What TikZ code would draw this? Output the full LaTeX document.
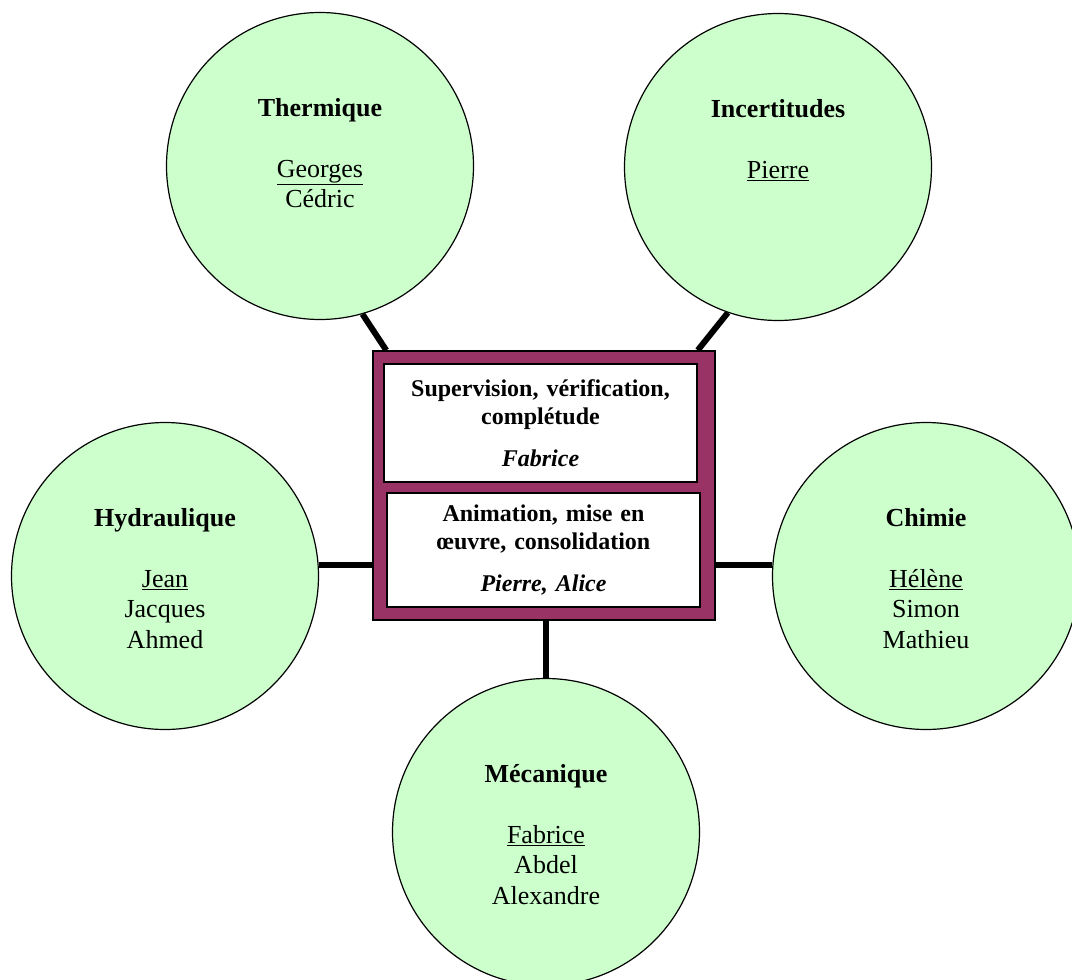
\documentclass[tikz,border=0pt]{standalone}
\usepackage{fontspec}
\setmainfont{Liberation Serif}
\usepackage{xcolor}
\usepackage{tikz}

\definecolor{poleGreen}{HTML}{CCFFCC}
\definecolor{plum}{HTML}{993366}

\begin{document}
\begin{tikzpicture}[x=1pt, y=-1pt,
    pole/.style={circle, draw, line width=1.2pt, fill=poleGreen, minimum size=307pt, inner sep=0pt},
    poletext/.style={anchor=north, inner sep=0pt, align=center, font=\fontsize{26}{30.5}\selectfont},
    panel/.style={draw, line width=1.2pt, fill=white, align=center, text width=300pt, minimum width=313pt,
                  font=\fontsize{24}{28}\selectfont\bfseries},
    link/.style={line width=6pt}]
    \useasboundingbox (0,0) rectangle (1072,980);

    % the five poles
    \node[pole] (therm) at (320,166) {};
    \node[poletext] (therm-txt) at ([yshift=68pt]therm.center) {\textbf{Thermique}\\[30.5pt]\underline{Georges}\\Cédric};

    \node[pole] (incert) at (778,167) {};
    \node[poletext] (incert-txt) at ([yshift=68pt]incert.center) {\textbf{Incertitudes}\\[30.5pt]\underline{Pierre}};

    \node[pole] (hydr) at (165,576) {};
    \node[poletext] (hydr-txt) at ([yshift=68pt]hydr.center) {\textbf{Hydraulique}\\[30.5pt]\underline{Jean}\\Jacques\\Ahmed};

    \node[pole] (chim) at (926,576) {};
    \node[poletext] (chim-txt) at ([yshift=68pt]chim.center) {\textbf{Chimie}\\[30.5pt]\underline{Hélène}\\Simon\\Mathieu};

    \node[pole] (meca) at (546,832) {};
    \node[poletext] (meca-txt) at ([yshift=68pt]meca.center) {\textbf{Mécanique}\\[30.5pt]\underline{Fabrice}\\Abdel\\Alexandre};

    % centre
    \node[draw, line width=1.5pt, fill=plum, minimum width=342pt, minimum height=269pt] (core) at (544,485.5) {};
    \node[panel, minimum height=118pt] (superv) at (540.5,423) {Supervision, vérification,\\complétude\\[14pt]\textit{Fabrice}};
    \node[panel, minimum height=114pt] (anim) at (543.5,550) {Animation, mise en\\œuvre, consolidation\\[14pt]\textit{Pierre, Alice}};

    % links
    \draw[link] (therm.-74) -- ([xshift=14pt]core.north west);
    \draw[link] (incert.-109) -- ([xshift=-18pt]core.north east);
    \draw[link] (hydr.4) -- (hydr.4 -| core.west);
    \draw[link] (chim.176) -- (chim.176 -| core.east);
    \draw[link] (meca.north) -- (meca.north |- core.south);
\end{tikzpicture}
\end{document}
